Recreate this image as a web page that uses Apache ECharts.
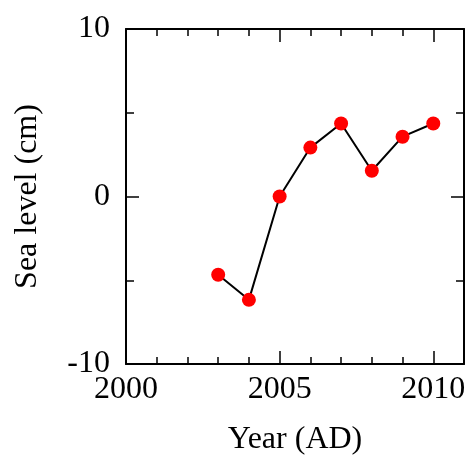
<!DOCTYPE html>
<html><head><meta charset="utf-8">
<script src="https://cdn.jsdelivr.net/npm/echarts@6/dist/echarts.min.js"></script>
<style>html,body{margin:0;padding:0;background:#fff}#c{width:471px;height:461px}</style>
</head><body><div id="c"></div>
<script>
const years = [2003, 2004, 2005, 2006, 2007, 2008, 2009, 2010];
const seaLevel = [-4.67, -6.17, 0.0, 2.92, 4.36, 1.54, 3.57, 4.36];
const xTickLabels = [2000, 2005, 2010];
const yTickLabels = [-10, 0, 10];

const FONT = '"Liberation Serif", "DejaVu Serif", serif';
const chart = echarts.init(document.getElementById('c'), null, {renderer: 'canvas'});

function xAx(pos, interval, len, main) {
  return {
    type: 'value', position: pos, min: 2000, max: 2011, interval: interval,
    name: main && pos === 'bottom' ? 'Year (AD)' : '',
    nameLocation: 'middle', nameGap: 60,
    nameTextStyle: {fontFamily: FONT, fontSize: 32, color: '#000'},
    axisLine: {show: main, onZero: false, lineStyle: {color: '#000', width: 2}},
    axisTick: {show: true, inside: true, length: len, lineStyle: {color: '#000', width: 1.5}},
    axisLabel: {show: main && pos === 'bottom', margin: 10, fontFamily: FONT, fontSize: 32, color: '#000',
      formatter: v => xTickLabels.includes(v) ? String(v) : ''},
    splitLine: {show: false}
  };
}
function yAx(pos, interval, len, main) {
  return {
    type: 'value', position: pos, min: -10, max: 10, interval: interval,
    name: main && pos === 'left' ? 'Sea level (cm)' : '',
    nameLocation: 'middle', nameGap: 82,
    nameTextStyle: {fontFamily: FONT, fontSize: 32, color: '#000'},
    axisLine: {show: main, onZero: false, lineStyle: {color: '#000', width: 2}},
    axisTick: {show: true, inside: true, length: len, lineStyle: {color: '#000', width: 1.5}},
    axisLabel: {show: main && pos === 'left', margin: 16, fontFamily: FONT, fontSize: 32, color: '#000',
      formatter: v => yTickLabels.includes(v) ? String(v) : ''},
    splitLine: {show: false}
  };
}

chart.setOption({
  animation: false,
  backgroundColor: '#fff',
  grid: {left: 126, right: 7, top: 29, bottom: 94, containLabel: false},
  xAxis: [xAx('bottom', 1, 7, true), xAx('bottom', 5, 13, false), xAx('top', 1, 7, true), xAx('top', 5, 13, false)],
  yAxis: [yAx('left', 5, 8, true), yAx('left', 10, 13, false), yAx('right', 5, 8, true), yAx('right', 10, 13, false)],
  series: [{
    type: 'line', xAxisIndex: 0, yAxisIndex: 0,
    data: years.map((y, i) => [y, seaLevel[i]]),
    symbol: 'circle', symbolSize: 14,
    lineStyle: {color: '#000', width: 2},
    itemStyle: {color: '#ff0000', borderWidth: 0}
  }]
});
</script></body></html>
